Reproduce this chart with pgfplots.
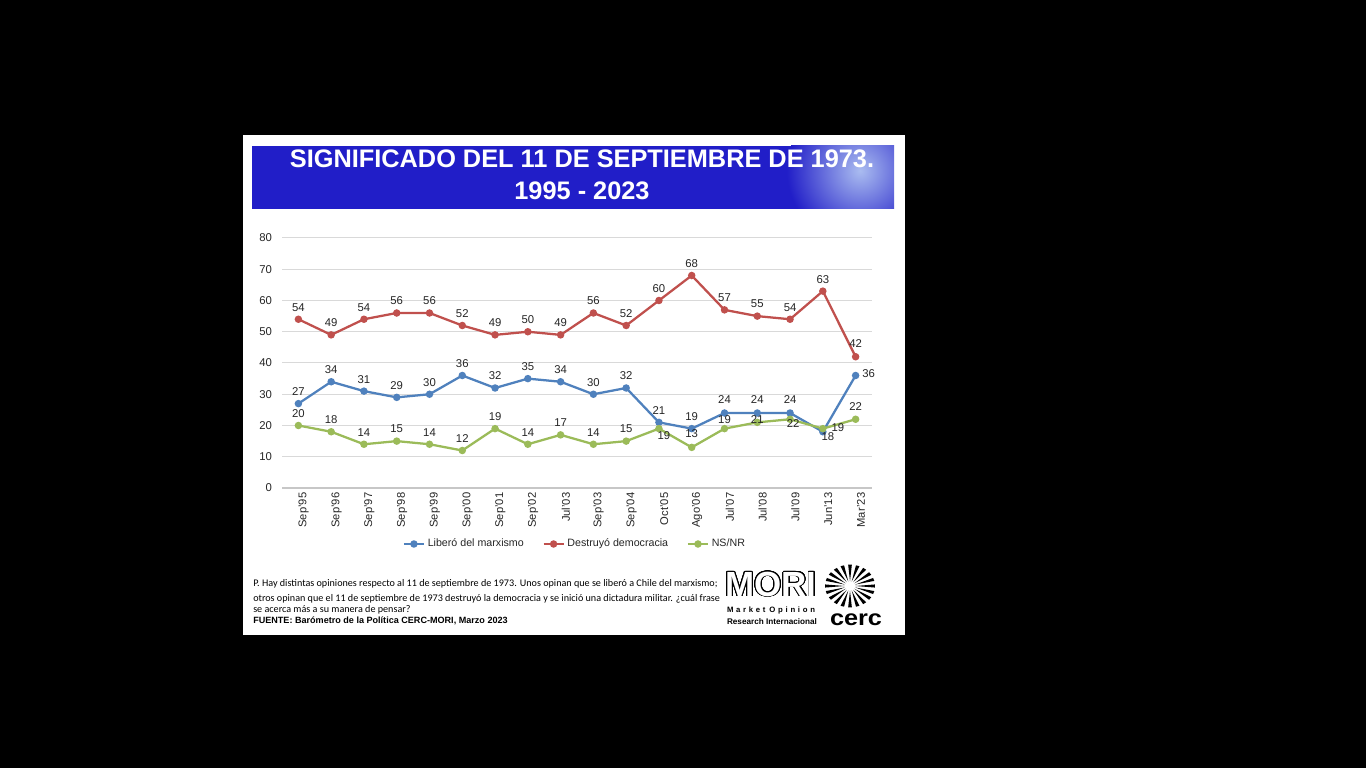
\documentclass[border=0pt]{standalone}
\usepackage{pgfplots}
\pgfplotsset{compat=1.18}
\usepackage{pgfplotstable}
\usepackage{fontspec}
\setmainfont{Liberation Sans}
\newfontfamily\calibri{Carlito}
\usepackage[copies]{contour}
\contournumber{24}
\definecolor{cblue}{HTML}{4F81BD}
\definecolor{cred}{HTML}{C0504D}
\definecolor{cgreen}{HTML}{9BBB59}
\definecolor{banner}{RGB}{33,30,200}
\definecolor{bannerlight}{RGB}{170,188,240}
\definecolor{gridc}{HTML}{D9D9D9}
\definecolor{txt}{HTML}{262626}

\pgfplotstableread{
x y dx dy
0 27 0 12
1 34 0 12
2 31 0 12
3 29 0 12
4 30 0 12
5 36 0 12
6 32 0 12
7 35 0 12
8 34 0 12
9 30 0 12
10 32 0 12
11 21 0 12
12 19 0 12
13 24 0 13
14 24 0 13
15 24 0 13
16 18 5 -5
17 36 13 1.5
}\liberoTab

\pgfplotstableread{
x y dx dy
0 54 0 12
1 49 0 12
2 54 0 12
3 56 0 12
4 56 0 12
5 52 0 12
6 49 0 12
7 50 0 12
8 49 0 12
9 56 0 12
10 52 0 12
11 60 0 12
12 68 0 12
13 57 0 12
14 55 0 12
15 54 0 12
16 63 0 12
17 42 0 13
}\destruyoTab

\pgfplotstableread{
x y dx dy
0 20 0 12
1 18 0 12
2 14 0 12
3 15 0 12
4 14 0 12
5 12 0 12
6 19 0 12
7 14 0 12
8 17 0 12
9 14 0 12
10 15 0 12
11 19 5 -6.5
12 13 0 14
13 19 0 9
14 21 0 3
15 22 3 -4
16 19 15 1.5
17 22 0 13
}\nsnrTab

\pgfplotsset{lbl/.style={forget plot, draw=none, mark=none, nodes near coords,
    visualization depends on={\thisrow{dx}\as\dx},
    visualization depends on={\thisrow{dy}\as\dy},
    nodes near coords style={anchor=center, inner sep=0pt, xshift={\dx*0.75pt}, yshift={\dy*0.75pt},
      font=\fontsize{8.5}{10}\selectfont, text=txt}}}

\begin{document}
\begin{tikzpicture}
\useasboundingbox (0,0) rectangle (1024.5pt,576pt);
\fill[black] (0,0) rectangle (1024.5pt,576pt);
\fill[white] (182.25pt,99.75pt) rectangle (678.75pt,474.75pt);
\begin{scope}
\clip (189pt,419.25pt) rectangle (670.5pt,466.5pt);
\fill[banner] (189pt,419.25pt) rectangle (670.5pt,466.5pt);
\shade[inner color=bannerlight, outer color=banner] (645pt,448pt) circle (55pt);
\end{scope}
\node[text=white, inner sep=0pt, font=\fontsize{19}{22}\selectfont\bfseries] at (436.5pt,457.1pt) {SIGNIFICADO DEL 11 DE SEPTIEMBRE DE 1973.};
\node[text=white, inner sep=0pt, font=\fontsize{19}{22}\selectfont\bfseries] at (436.5pt,432.75pt) {1995 - 2023};

\begin{axis}[
  at={(211.5pt,210pt)}, anchor=south west,
  scale only axis, width=442.5pt, height=187.5pt,
  xmin=-0.5, xmax=17.5, ymin=0, ymax=80,
  ytick={0,10,...,80},
  xtick={0,...,17},
  xticklabels={Sep'95,Sep'96,Sep'97,Sep'98,Sep'99,Sep'00,Sep'01,Sep'02,Jul'03,Sep'03,Sep'04,Oct'05,Ago'06,Jul'07,Jul'08,Jul'09,Jun'13,Mar'23},
  ymajorgrids, grid style={gridc, line width=0.75pt},
  axis x line*=bottom, axis y line*=left,
  x axis line style={draw=black!22, line width=1pt, -},
  y axis line style={draw=none},
  major tick length=0pt,
  /pgf/number format/assume math mode=true,
  tick label style={font=\fontsize{8.5}{10}\selectfont, text=txt},
  yticklabel style={xshift=-4pt},
  xticklabel style={rotate=90, anchor=east, font=\fontsize{8.4}{10}\selectfont, yshift=-4pt},
  clip=false,
  legend style={at={(0.497,-0.224)}, anchor=center, draw=none, fill=none,
    legend columns=3, font=\fontsize{8}{10}\selectfont, text=txt,
    /tikz/every even column/.append style={column sep=12pt}},
  legend image code/.code={\draw[mark repeat=2,mark phase=2,#1] plot coordinates {(0pt,0pt) (7.5pt,0pt) (15pt,0pt)};},
]
\addplot[cblue, line width=1.7pt, mark=*, mark size=1.9pt, mark options={solid}] table[x=x,y=y]{\liberoTab};
\addlegendentry{Liberó del marxismo}
\addplot[cred, line width=1.7pt, mark=*, mark size=1.9pt, mark options={solid}] table[x=x,y=y]{\destruyoTab};
\addlegendentry{Destruyó democracia}
\addplot[cgreen, line width=1.7pt, mark=*, mark size=1.9pt, mark options={solid}] table[x=x,y=y]{\nsnrTab};
\addlegendentry{NS/NR}
\addplot[lbl] table[x=x,y=y]{\liberoTab};
\addplot[lbl] table[x=x,y=y]{\destruyoTab};
\addplot[lbl] table[x=x,y=y]{\nsnrTab};
\end{axis}

\node[anchor=west, inner sep=0pt, font=\calibri\fontsize{7.6}{9}\selectfont] at (189.75pt,138pt) {P. Hay distintas opiniones respecto al 11 de septiembre de 1973. Unos opinan que se liberó a Chile del marxismo;};
\node[anchor=west, inner sep=0pt, font=\calibri\fontsize{7.6}{9}\selectfont] at (189.75pt,126.75pt) {otros opinan que el 11 de septiembre de 1973 destruyó la democracia y se inició una dictadura militar. ¿cuál frase};
\node[anchor=west, inner sep=0pt, font=\calibri\fontsize{7.6}{9}\selectfont] at (189.75pt,118.5pt) {se acerca más a su manera de pensar?};
\node[anchor=west, inner sep=0pt, font=\fontsize{6.8}{8}\selectfont\bfseries] at (189.75pt,110.6pt) {FUENTE: Barómetro de la Política CERC-MORI, Marzo 2023};

\contourlength{0.55pt}
\node[inner sep=0pt, font=\fontsize{26.2}{28}\selectfont\bfseries] at (578.25pt,137.6pt) {\contour{black}{\textcolor{white}{MORI}}};
\node[inner sep=0pt] at (578.25pt,118.5pt) {\resizebox{66pt}{!}{\bfseries\addfontfeatures{LetterSpace=35}Market\hspace{0.5em}Opinion}};
\node[inner sep=0pt] at (579pt,109.5pt) {\resizebox{67.5pt}{!}{\bfseries Research Internacional}};
\begin{scope}[shift={(637.5pt,136.5pt)}, xscale=1.17]
\foreach \a in {0,18,...,342} {
  \fill[black] (\a:3.5pt) -- (\a-4.2:16pt) -- (\a+4.2:16pt) -- cycle;
}
\end{scope}
\node[inner sep=0pt] at (642pt,111pt) {\resizebox{39pt}{8.8pt}{\bfseries cerc}};
\end{tikzpicture}
\end{document}
